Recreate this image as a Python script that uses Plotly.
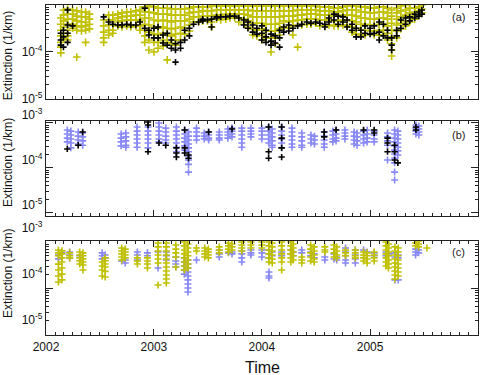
import plotly.graph_objects as go

# ---------------- Panel (a): yellow & black, dense time series ----------------
a_dates = ["2002-02-20", "2002-03-01", "2002-03-15", "2002-04-01", "2002-04-15", "2002-05-01",
           "2002-05-15", "2002-05-28", "2002-07-15", "2002-08-01", "2002-08-15", "2002-09-01",
           "2002-09-15", "2002-10-01", "2002-10-15", "2002-11-01", "2002-11-15", "2002-12-01",
           "2002-12-15", "2003-01-01", "2003-01-15", "2003-02-01", "2003-02-15", "2003-03-01",
           "2003-03-15", "2003-04-01", "2003-04-15", "2003-05-01", "2003-05-15", "2003-06-01",
           "2003-06-15", "2003-07-01", "2003-07-15", "2003-08-01", "2003-08-15", "2003-09-01",
           "2003-09-15", "2003-10-01", "2003-10-15", "2003-11-01", "2003-11-15", "2003-12-01",
           "2003-12-15", "2004-01-01", "2004-01-15", "2004-02-01", "2004-02-15", "2004-03-01",
           "2004-03-15", "2004-04-01", "2004-04-15", "2004-05-01", "2004-05-15", "2004-06-01",
           "2004-06-15", "2004-07-01", "2004-07-15", "2004-08-01", "2004-08-15", "2004-09-01",
           "2004-09-15", "2004-10-01", "2004-10-15", "2004-11-01", "2004-11-15", "2004-12-01",
           "2004-12-15", "2005-01-01", "2005-01-15", "2005-02-01", "2005-02-15", "2005-03-01",
           "2005-03-15", "2005-04-01", "2005-04-15", "2005-05-01", "2005-05-15", "2005-06-01",
           "2005-06-15", "2005-06-25"]
a_yellow = [
    [5.3e-4, 3.9e-4, 2.9e-4, 2.2e-4, 1.6e-4, 1.27e-4, 9.6e-5],
    [7.8e-4, 6.1e-4, 4.6e-4, 3.4e-4, 2.5e-4, 1.9e-4],
    [8.2e-4, 6.4e-4, 5.0e-4, 3.9e-4, 2.9e-4, 2.2e-4, 1.8e-4],
    [7.8e-4, 6.4e-4, 5.0e-4, 3.9e-4, 3.2e-4],
    [7.5e-4, 5.8e-4, 4.6e-4, 3.6e-4, 2.9e-4, 7.8e-5],
    [7.1e-4, 5.6e-4, 4.35e-4, 3.4e-4, 2.8e-4],
    [7.1e-4, 5.6e-4, 4.35e-4, 3.6e-4, 2.9e-4, 1.6e-4],
    [6.4e-4, 5.0e-4, 3.9e-4, 3.1e-4],
    [4.8e-4, 3.6e-4, 2.65e-4, 2.0e-4, 1.6e-4],
    [6.1e-4, 4.8e-4, 3.75e-4, 2.9e-4, 2.3e-4],
    [6.1e-4, 4.8e-4, 3.75e-4, 2.9e-4, 2.5e-4],
    [6.4e-4, 5.3e-4, 4.35e-4, 3.6e-4],
    [6.8e-4, 5.6e-4, 4.6e-4, 3.4e-4],
    [7.1e-4, 5.8e-4, 4.8e-4, 3.6e-4],
    [7.1e-4, 5.8e-4, 4.8e-4, 3.4e-4],
    [7.5e-4, 6.1e-4, 4.8e-4, 3.6e-4],
    [7.8e-4, 6.1e-4, 4.8e-4, 3.6e-4, 2.9e-4],
    [9.1e-4, 7.1e-4, 5.3e-4, 3.9e-4, 2.9e-4, 2.2e-4, 1.6e-4],
    [9.5e-4, 7.1e-4, 5.3e-4, 3.75e-4, 2.65e-4, 1.8e-4, 1.1e-4],
    [9.1e-4, 6.8e-4, 4.8e-4, 3.4e-4, 2.4e-4, 1.6e-4, 1.0e-4],
    [8.6e-4, 6.4e-4, 4.6e-4, 3.2e-4, 2.3e-4, 1.6e-4, 1.2e-4],
    [8.6e-4, 6.4e-4, 4.8e-4, 3.4e-4, 2.5e-4, 1.8e-4, 1.33e-4],
    [8.6e-4, 6.4e-4, 4.6e-4, 3.2e-4, 2.3e-4, 1.6e-4, 6.8e-5],
    [8.2e-4, 6.1e-4, 4.35e-4, 3.1e-4, 2.2e-4, 1.55e-4],
    [8.2e-4, 6.1e-4, 4.6e-4, 3.2e-4, 2.4e-4, 1.8e-4, 1.4e-4],
    [8.2e-4, 6.1e-4, 4.6e-4, 3.4e-4, 2.5e-4, 1.8e-4],
    [8.2e-4, 6.1e-4, 4.6e-4, 3.2e-4, 2.4e-4],
    [8.6e-4, 6.8e-4, 5.0e-4, 3.75e-4, 2.8e-4],
    [9.1e-4, 7.1e-4, 5.6e-4, 4.35e-4],
    [9.1e-4, 7.1e-4, 5.6e-4, 4.35e-4],
    [9.1e-4, 7.5e-4, 5.8e-4, 4.6e-4],
    [9.1e-4, 7.5e-4, 5.8e-4, 4.6e-4],
    [9.5e-4, 7.5e-4, 5.8e-4, 4.35e-4, 3.4e-4],
    [9.5e-4, 7.8e-4, 6.1e-4, 5.0e-4],
    [9.5e-4, 7.8e-4, 6.1e-4, 4.8e-4],
    [9.5e-4, 7.8e-4, 6.4e-4, 5.0e-4],
    [9.5e-4, 7.8e-4, 6.4e-4, 5.3e-4],
    [9.5e-4, 7.8e-4, 6.4e-4, 5.3e-4],
    [9.5e-4, 7.8e-4, 6.4e-4, 5.3e-4, 4.35e-4],
    [9.5e-4, 7.8e-4, 6.4e-4, 5.0e-4, 3.9e-4],
    [9.5e-4, 7.8e-4, 6.1e-4, 4.6e-4, 3.4e-4],
    [9.5e-4, 7.5e-4, 5.6e-4, 4.1e-4, 3.1e-4, 2.3e-4],
    [9.5e-4, 7.5e-4, 5.6e-4, 4.1e-4, 2.9e-4, 2.2e-4],
    [9.5e-4, 7.5e-4, 5.6e-4, 4.1e-4, 3.1e-4, 2.3e-4, 1.8e-4],
    [9.5e-4, 7.5e-4, 5.6e-4, 3.9e-4, 2.8e-4, 2.0e-4],
    [9.5e-4, 7.5e-4, 5.6e-4, 3.9e-4, 2.8e-4, 2.0e-4, 1.0e-4],
    [9.5e-4, 7.5e-4, 5.6e-4, 3.9e-4, 2.8e-4, 2.0e-4, 1.5e-4],
    [9.5e-4, 7.5e-4, 5.6e-4, 4.1e-4, 3.1e-4, 2.3e-4],
    [9.5e-4, 7.5e-4, 5.8e-4, 4.6e-4, 3.4e-4],
    [9.5e-4, 7.5e-4, 5.8e-4, 4.35e-4, 3.2e-4],
    [9.5e-4, 7.5e-4, 5.8e-4, 4.6e-4, 3.6e-4, 2.3e-4],
    [9.5e-4, 7.8e-4, 6.1e-4, 4.8e-4, 3.75e-4, 1.27e-4],
    [9.5e-4, 7.8e-4, 6.1e-4, 4.8e-4, 3.75e-4],
    [9.5e-4, 7.8e-4, 6.4e-4, 5.0e-4, 3.9e-4],
    [9.5e-4, 7.8e-4, 6.4e-4, 5.0e-4, 3.9e-4],
    [9.5e-4, 7.8e-4, 6.4e-4, 5.0e-4, 4.1e-4],
    [9.1e-4, 7.5e-4, 6.1e-4, 4.8e-4, 3.6e-4],
    [9.1e-4, 7.5e-4, 6.1e-4, 4.8e-4, 3.6e-4],
    [9.1e-4, 7.5e-4, 6.1e-4, 4.8e-4, 3.75e-4],
    [8.6e-4, 7.1e-4, 5.8e-4, 4.6e-4, 3.6e-4],
    [8.6e-4, 7.1e-4, 5.8e-4, 4.6e-4, 3.6e-4],
    [9.1e-4, 7.5e-4, 6.1e-4, 4.8e-4, 3.75e-4],
    [9.5e-4, 7.8e-4, 6.1e-4, 4.8e-4, 3.6e-4],
    [9.5e-4, 7.8e-4, 6.1e-4, 4.6e-4, 3.4e-4, 2.65e-4],
    [9.5e-4, 7.8e-4, 5.8e-4, 4.35e-4, 3.2e-4, 2.4e-4],
    [9.1e-4, 7.1e-4, 5.3e-4, 3.9e-4, 2.9e-4, 2.3e-4],
    [9.1e-4, 7.1e-4, 5.3e-4, 3.9e-4, 2.9e-4, 2.3e-4],
    [8.6e-4, 6.8e-4, 5.0e-4, 3.75e-4, 2.8e-4],
    [8.6e-4, 6.8e-4, 5.0e-4, 3.75e-4, 2.8e-4, 2.3e-4],
    [9.1e-4, 7.1e-4, 5.3e-4, 3.9e-4, 2.9e-4, 2.3e-4],
    [9.1e-4, 7.1e-4, 5.3e-4, 3.9e-4, 2.9e-4, 2.3e-4],
    [8.6e-4, 6.8e-4, 5.0e-4, 3.6e-4, 2.5e-4, 1.8e-4],
    [7.8e-4, 5.8e-4, 4.1e-4, 2.9e-4, 2.1e-4, 1.5e-4, 1.1e-4, 8.2e-5],
    [8.6e-4, 6.8e-4, 5.0e-4, 3.75e-4, 2.8e-4, 2.0e-4],
    [9.5e-4, 7.5e-4, 5.6e-4, 4.1e-4, 3.1e-4],
    [1.0e-3, 7.8e-4, 6.1e-4, 4.6e-4, 3.6e-4],
    [1.05e-3, 8.6e-4, 6.8e-4, 5.3e-4, 4.35e-4],
    [1.05e-3, 8.6e-4, 7.1e-4, 5.8e-4, 5.0e-4],
    [1.05e-3, 9.1e-4, 7.5e-4, 6.1e-4],
    [1.0e-3, 8.2e-4, 6.8e-4],
]
a_black = [
    [2.5e-4, 1.8e-4, 1.4e-4], [2.9e-4, 2.1e-4, 1.27e-4], [7.8e-4, 3.75e-4, 2.5e-4, 1.6e-4], [3.6e-4],
    [], [], [], [],
    [5.6e-4], [4.35e-4], [3.9e-4], [3.75e-4], [3.75e-4], [3.9e-4], [3.75e-4], [3.75e-4], [4.35e-4],
    [8.6e-4, 3.2e-4], [2.3e-4, 2.9e-4], [2.0e-4, 3.2e-4], [3.4e-4, 2.0e-4], [1.55e-4, 2.3e-4],
    [2.5e-4, 1.4e-4], [1.8e-4, 1.2e-4], [1.5e-4, 1.1e-4, 6.1e-5], [1.6e-4, 1.2e-4], [2.9e-4, 1.8e-4],
    [3.2e-4, 2.2e-4], [3.9e-4], [4.35e-4], [4.6e-4, 5.0e-4], [4.8e-4], [5.0e-4, 3.4e-4],
    [5.3e-4, 5.6e-4], [5.6e-4], [5.6e-4], [5.8e-4], [5.8e-4], [5.3e-4], [4.8e-4, 3.75e-4],
    [4.35e-4, 3.2e-4], [3.75e-4, 2.65e-4], [3.2e-4, 2.4e-4], [3.6e-4, 2.5e-4, 1.8e-4],
    [2.9e-4, 2.1e-4, 1.6e-4], [2.4e-4, 1.7e-4, 1.4e-4], [2.2e-4, 1.55e-4], [2.9e-4, 2.0e-4, 1.27e-4],
    [3.4e-4, 2.65e-4], [3.75e-4, 2.8e-4], [3.2e-4], [3.6e-4], [3.9e-4], [4.35e-4], [4.1e-4],
    [4.35e-4], [4.1e-4], [3.9e-4, 3.4e-4], [5.3e-4, 4.35e-4], [6.4e-4, 4.8e-4], [5.8e-4, 3.9e-4],
    [5.6e-4, 4.35e-4], [4.8e-4, 3.4e-4], [3.9e-4, 2.9e-4], [3.2e-4, 2.1e-4], [2.9e-4, 2.1e-4],
    [3.6e-4, 2.5e-4], [3.2e-4, 2.4e-4], [3.6e-4, 2.5e-4], [4.35e-4, 2.65e-4, 1.8e-4], [3.9e-4, 2.2e-4],
    [2.9e-4, 2.0e-4], [2.0e-4, 1.4e-4, 1.1e-4], [2.9e-4, 2.2e-4], [4.8e-4, 3.2e-4], [5.3e-4, 3.9e-4],
    [5.6e-4, 4.6e-4], [6.4e-4, 5.3e-4], [7.1e-4, 5.8e-4], [7.8e-4, 6.4e-4],
]

# ---------------- Panel (b): blue & black clusters ----------------
b_dates = ["2002-03-14", "2002-03-26", "2002-04-20", "2002-05-05", "2002-09-12", "2002-09-28",
           "2002-11-05", "2002-12-12", "2003-01-18", "2003-02-10", "2003-03-18", "2003-04-15",
           "2003-04-28", "2003-05-25", "2003-06-20", "2003-07-05", "2003-08-10", "2003-09-08",
           "2003-09-22", "2003-10-25", "2003-11-25", "2004-01-01", "2004-01-24", "2004-02-05",
           "2004-03-08", "2004-04-12", "2004-05-15", "2004-06-15", "2004-06-27", "2004-07-30",
           "2004-08-28", "2004-09-08", "2004-10-08", "2004-11-08", "2004-11-18", "2004-12-10",
           "2004-12-22", "2005-01-15", "2005-03-01", "2005-03-25", "2005-04-05", "2005-06-05",
           "2005-06-15"]
b_blue = [
    [7.0e-4, 5.7e-4, 4.6e-4, 3.8e-4],
    [6.6e-4, 5.4e-4, 4.4e-4, 3.6e-4, 2.8e-4],
    [6.3e-4, 5.1e-4, 4.2e-4, 3.4e-4],
    [6.0e-4, 4.9e-4, 4.0e-4, 3.2e-4],
    [5.7e-4, 4.6e-4, 3.8e-4, 3.1e-4],
    [6.0e-4, 4.9e-4, 4.0e-4, 3.2e-4, 2.9e-4],
    [8.15e-4, 6.6e-4, 5.4e-4, 4.4e-4, 3.6e-4, 2.9e-4],
    [8.15e-4, 6.6e-4, 5.4e-4, 4.4e-4, 3.6e-4, 2.8e-4],
    [1.0e-3, 8.15e-4, 6.6e-4, 5.4e-4, 4.4e-4, 3.8e-4],
    [7.7e-4, 6.3e-4, 5.1e-4, 4.2e-4, 3.6e-4],
    [8.15e-4, 6.6e-4, 5.4e-4, 4.4e-4, 3.6e-4, 2.9e-4, 2.3e-4],
    [7.0e-4, 5.7e-4, 4.6e-4, 3.8e-4, 3.1e-4, 2.5e-4],
    [6.3e-4, 5.1e-4, 4.2e-4, 3.4e-4, 2.8e-4, 2.3e-4, 1.85e-4, 1.5e-4, 1.2e-4, 8.1e-5],
    [7.7e-4, 6.3e-4, 5.1e-4, 4.2e-4],
    [6.0e-4, 5.1e-4, 4.4e-4],
    [6.3e-4, 5.4e-4, 4.6e-4, 4.2e-4],
    [6.3e-4, 5.4e-4, 4.6e-4, 4.2e-4],
    [7.35e-4, 6.3e-4, 5.4e-4, 4.6e-4],
    [7.7e-4, 6.6e-4, 5.7e-4, 4.9e-4],
    [7.7e-4, 6.6e-4, 5.4e-4, 4.4e-4, 3.6e-4, 2.9e-4],
    [7.7e-4, 6.6e-4, 5.7e-4, 4.9e-4],
    [7.7e-4, 6.6e-4, 5.4e-4, 4.4e-4],
    [8.15e-4, 6.6e-4, 5.4e-4, 4.4e-4, 3.6e-4],
    [7.35e-4, 6.0e-4, 4.9e-4, 4.0e-4, 3.2e-4, 2.9e-4],
    [8.15e-4, 6.6e-4, 5.4e-4, 4.4e-4, 3.6e-4, 2.8e-4],
    [7.7e-4, 6.3e-4, 5.1e-4, 4.2e-4, 3.4e-4, 2.9e-4],
    [6.0e-4, 4.9e-4, 4.0e-4, 3.2e-4, 2.9e-4],
    [5.4e-4, 4.4e-4, 3.6e-4],
    [5.1e-4, 4.2e-4, 3.4e-4],
    [6.3e-4, 5.1e-4, 4.2e-4, 3.4e-4, 2.9e-4],
    [6.6e-4, 5.4e-4, 4.4e-4, 3.8e-4],
    [7.0e-4, 5.7e-4, 4.6e-4, 4.0e-4],
    [7.0e-4, 6.0e-4, 5.1e-4, 4.4e-4],
    [6.3e-4, 5.1e-4, 4.2e-4, 3.4e-4],
    [6.0e-4, 4.9e-4, 4.0e-4, 3.2e-4],
    [6.6e-4, 5.4e-4, 4.4e-4, 3.6e-4],
    [7.0e-4, 5.7e-4, 4.6e-4, 3.8e-4],
    [6.6e-4, 5.4e-4, 4.4e-4, 3.8e-4],
    [6.0e-4, 4.9e-4, 4.0e-4, 3.2e-4, 1.5e-4],
    [7.0e-4, 5.7e-4, 4.6e-4, 3.8e-4, 3.1e-4, 2.5e-4, 2.05e-4, 1.65e-4, 1.3e-4, 8.1e-5, 5.4e-5],
    [6.6e-4, 5.4e-4, 4.4e-4, 3.6e-4, 2.9e-4, 2.4e-4, 1.95e-4],
    [9.0e-4, 7.7e-4, 6.6e-4, 5.7e-4],
    [8.6e-4, 7.35e-4, 6.3e-4, 5.4e-4],
]
b_black = [
    [2.65e-4], [], [3.2e-4], [6.3e-4], [], [], [], [1.05e-3, 9.0e-4, 2.3e-4], [3.6e-4], [3.2e-4],
    [2.8e-4, 2.15e-4, 1.75e-4], [7.0e-4, 2.8e-4, 2.15e-4], [1.95e-4, 1.65e-4], [], [], [6.3e-4], [],
    [], [7.35e-4], [], [], [], [8.15e-4, 2.3e-4, 1.65e-4], [], [8.15e-4, 4.6e-4, 2.8e-4, 1.75e-4], [],
    [], [], [], [6.3e-4, 4.9e-4], [], [7.0e-4], [], [], [], [7.0e-4], [], [7.0e-4, 6.0e-4],
    [4.6e-4, 3.6e-4, 2.3e-4], [3.2e-4, 2.3e-4, 1.5e-4], [1.3e-4], [8.15e-4, 7.0e-4], [],
]

# ---------------- Panel (c): yellow & blue clusters ----------------
c_dates = ["2002-02-12", "2002-02-24", "2002-03-22", "2002-04-25", "2002-05-06", "2002-07-10",
           "2002-07-20", "2002-09-14", "2002-09-26", "2002-11-06", "2002-12-10", "2003-01-15",
           "2003-02-12", "2003-03-16", "2003-04-14", "2003-04-26", "2003-05-25", "2003-06-22",
           "2003-07-04", "2003-08-10", "2003-09-10", "2003-09-22", "2003-10-25", "2003-11-25",
           "2004-01-01", "2004-01-25", "2004-02-05", "2004-03-08", "2004-04-08", "2004-04-16",
           "2004-05-15", "2004-06-14", "2004-06-26", "2004-08-01", "2004-09-01", "2004-09-10",
           "2004-10-10", "2004-11-12", "2004-12-10", "2004-12-22", "2005-01-15", "2005-02-24",
           "2005-03-04", "2005-03-26", "2005-04-06", "2005-06-04", "2005-06-14", "2005-07-12"]
c_yellow = [
    [6.7e-4, 5.8e-4, 5.0e-4, 3.3e-4, 2.46e-4, 1.82e-4, 1.35e-4],
    [6.4e-4, 5.5e-4, 4.5e-4, 3.67e-4, 2.72e-4, 2.0e-4, 1.5e-4],
    [5.8e-4, 5.0e-4, 4.5e-4],
    [6.06e-4, 5.2e-4, 4.5e-4, 3.9e-4, 3.32e-4],
    [5.8e-4, 5.0e-4, 4.3e-4, 3.67e-4, 3.15e-4, 2.46e-4],
    [3.67e-4, 3.0e-4, 2.46e-4, 1.82e-4],
    [4.5e-4, 3.9e-4, 3.32e-4, 2.85e-4, 2.3e-4, 1.73e-4],
    [7.4e-4, 6.37e-4, 5.5e-4, 4.7e-4, 4.06e-4],
    [7.0e-4, 6.06e-4, 5.2e-4, 4.5e-4],
    [4.5e-4, 3.85e-4, 3.32e-4],
    [4.5e-4, 3.85e-4, 3.32e-4, 2.72e-4],
    [9.5e-4, 7.8e-4, 6.37e-4, 5.2e-4, 4.27e-4, 3.5e-4, 1.16e-4],
    [9.5e-4, 7.8e-4, 6.37e-4, 5.2e-4, 4.27e-4, 3.5e-4, 2.86e-4, 2.34e-4, 1.92e-4, 1.57e-4, 1.28e-4],
    [8.6e-4, 7.0e-4, 5.8e-4, 4.7e-4, 2.86e-4],
    [1.0e-3, 8.2e-4, 6.7e-4, 5.5e-4, 4.5e-4, 3.67e-4, 3.0e-4, 2.46e-4],
    [9.05e-4, 7.4e-4, 6.06e-4, 5.0e-4, 4.06e-4, 3.32e-4, 2.72e-4],
    [7.4e-4, 6.37e-4],
    [7.4e-4, 6.37e-4, 5.5e-4, 4.7e-4],
    [7.0e-4, 6.06e-4, 5.2e-4, 4.5e-4],
    [7.8e-4, 6.7e-4, 5.8e-4],
    [9.5e-4, 8.2e-4, 7.0e-4, 6.06e-4],
    [9.05e-4, 7.8e-4, 6.7e-4],
    [1.0e-3, 8.6e-4, 7.4e-4, 6.37e-4],
    [1.0e-3, 8.6e-4, 7.4e-4],
    [1.0e-3, 8.6e-4, 7.4e-4],
    [1.0e-3, 8.2e-4, 6.7e-4, 5.5e-4, 4.5e-4, 3.67e-4],
    [9.5e-4, 7.8e-4, 6.37e-4, 5.2e-4, 4.27e-4, 3.5e-4],
    [1.0e-3, 8.2e-4, 6.7e-4, 5.5e-4, 4.5e-4, 3.67e-4, 2.46e-4],
    [1.0e-3, 8.2e-4, 6.7e-4, 5.5e-4, 4.5e-4, 3.67e-4],
    [9.05e-4, 7.4e-4, 6.06e-4, 5.0e-4, 4.06e-4],
    [4.7e-4, 4.06e-4, 3.5e-4],
    [8.6e-4, 7.0e-4, 5.8e-4, 4.7e-4, 3.85e-4],
    [7.8e-4, 6.37e-4, 5.2e-4, 4.27e-4, 3.67e-4],
    [7.8e-4, 6.7e-4, 6.06e-4],
    [8.6e-4, 7.0e-4, 5.8e-4, 4.7e-4],
    [7.8e-4, 6.37e-4, 5.2e-4, 4.5e-4],
    [6.7e-4, 5.8e-4, 5.0e-4],
    [6.7e-4, 5.8e-4, 5.0e-4, 4.5e-4],
    [6.06e-4, 5.2e-4, 4.5e-4, 3.85e-4],
    [5.8e-4, 5.0e-4, 4.27e-4, 3.5e-4],
    [6.06e-4, 5.2e-4, 4.5e-4, 3.85e-4],
    [1.0e-3, 8.2e-4, 6.7e-4, 5.5e-4, 4.5e-4, 3.67e-4, 3.0e-4],
    [9.05e-4, 7.4e-4, 6.06e-4, 5.0e-4, 4.06e-4, 3.32e-4, 2.72e-4],
    [7.8e-4, 6.37e-4, 5.2e-4, 4.27e-4, 3.5e-4, 2.86e-4, 2.34e-4, 1.92e-4, 1.57e-4],
    [7.4e-4, 6.06e-4, 5.0e-4, 4.06e-4, 3.32e-4, 2.72e-4, 2.22e-4, 1.82e-4],
    [1.1e-3, 9.5e-4, 8.2e-4],
    [1.05e-3, 9.05e-4, 7.8e-4],
    [7.4e-4],
]
c_blue = [
    [5.2e-4, 4.3e-4], [5.8e-4], [6.06e-4, 5.2e-4, 4.5e-4], [5.0e-4], [], [5.8e-4, 5.0e-4, 4.3e-4],
    [5.2e-4, 4.5e-4], [3.85e-4], [4.06e-4, 3.5e-4], [6.06e-4, 5.2e-4, 4.06e-4], [5.8e-4, 5.0e-4],
    [6.06e-4, 2.72e-4], [6.06e-4, 5.0e-4, 4.06e-4], [4.7e-4, 3.85e-4, 3.32e-4, 2.86e-4],
    [4.5e-4, 3.67e-4, 3.0e-4, 2.46e-4, 2.0e-4],
    [4.06e-4, 3.32e-4, 2.72e-4, 2.22e-4, 1.82e-4, 1.5e-4, 1.22e-4, 1.0e-4, 8.2e-5],
    [4.06e-4], [], [], [6.7e-4, 5.5e-4, 4.7e-4], [5.8e-4], [6.06e-4, 5.5e-4],
    [6.37e-4, 5.5e-4, 4.5e-4, 3.67e-4], [6.7e-4, 5.8e-4, 5.2e-4], [6.7e-4, 5.8e-4, 4.7e-4],
    [6.7e-4, 5.5e-4, 4.5e-4, 2.22e-4, 1.82e-4, 1.65e-4], [6.06e-4, 5.0e-4], [6.06e-4, 5.0e-4],
    [6.7e-4, 5.5e-4], [6.06e-4, 5.0e-4], [6.7e-4, 5.8e-4], [6.06e-4, 5.0e-4], [5.5e-4, 4.5e-4],
    [4.7e-4, 4.06e-4], [5.5e-4, 4.27e-4], [4.7e-4, 4.06e-4], [7.4e-4, 6.06e-4, 5.0e-4, 4.06e-4, 3.5e-4],
    [6.7e-4, 5.2e-4, 4.27e-4, 3.5e-4], [6.7e-4], [6.06e-4], [5.8e-4, 5.0e-4], [6.06e-4, 5.0e-4],
    [5.5e-4], [5.8e-4, 4.7e-4, 1.5e-4], [5.2e-4, 4.5e-4, 1.5e-4], [7.0e-4, 6.06e-4, 5.2e-4],
    [6.7e-4, 5.8e-4], [],
]

years = ["2002", "2003", "2004", "2005", "2006"]
ytick_vals = [1e-5, 1e-4, 1e-3]
ytick_text = ["10<sup>-5</sup>", "10<sup>-4</sup>", "10<sup>-3</sup>"]

YELLOW = "#c0c000"
BLACK = "#000000"
BLUE = "#8888f6"


def flatten(dates, groups):
    xs, ys = [], []
    for d, g in zip(dates, groups):
        for v in g:
            xs.append(d)
            ys.append(v)
    return xs, ys


def pts(dates, groups, color, xa, ya, size=5):
    xs, ys = flatten(dates, groups)
    return go.Scatter(x=xs, y=ys, mode="markers", xaxis=xa, yaxis=ya, showlegend=False,
                      hoverinfo="skip",
                      marker=dict(symbol="cross-thin", size=size, color=color,
                                  line=dict(color=color, width=1.6)))


fig = go.Figure()
fig.add_trace(pts(a_dates, a_yellow, YELLOW, "x", "y", 5.5))
fig.add_trace(pts(a_dates, a_black, BLACK, "x", "y", 4.5))
fig.add_trace(pts(b_dates, b_blue, BLUE, "x2", "y2", 5))
fig.add_trace(pts(b_dates, b_black, BLACK, "x2", "y2", 4.5))
fig.add_trace(pts(c_dates, c_blue, BLUE, "x3", "y3", 5))
fig.add_trace(pts(c_dates, c_yellow, YELLOW, "x3", "y3", 5))

minor_y = [m * 10.0 ** e for e in (-5, -4) for m in range(2, 10)]
AX = "#222222"
FONT = "Liberation Sans, Arial, sans-serif"


def xax(anchor, labels):
    return dict(type="date", range=["2002-01-01", "2006-01-01"], anchor=anchor,
                tickvals=[y + "-01-01" for y in years], ticktext=years,
                showticklabels=labels, ticks="inside", ticklen=6, tickwidth=1, tickcolor=AX,
                showline=True, linecolor=AX, linewidth=1.3, mirror="allticks",
                showgrid=False, zeroline=False, automargin=False,
                tickfont=dict(size=12, color="#111", family=FONT),
                minor=dict(ticks="inside", ticklen=3, tickwidth=1, tickcolor=AX,
                           dtick="M1", tick0="2002-01-01", showgrid=False))


def yax(anchor, dom, rng, shift):
    return dict(type="log", range=rng, domain=dom, anchor=anchor,
                tickvals=ytick_vals, ticktext=ytick_text, ticklabelshift=shift,
                ticks="inside", ticklen=7, tickwidth=1, tickcolor=AX,
                showline=True, linecolor=AX, linewidth=1.3, mirror="allticks",
                showgrid=False, zeroline=False, automargin=False,
                tickfont=dict(size=12, color="#111", family=FONT),
                minor=dict(ticks="inside", ticklen=3, tickwidth=1, tickcolor=AX,
                           tickvals=minor_y, showgrid=False))


fig.update_layout(
    width=489, height=375,
    margin=dict(l=46, r=11, t=5, b=40),
    paper_bgcolor="white", plot_bgcolor="white",
    font=dict(family=FONT, color="#111"),
    xaxis=xax("y", False),
    xaxis2=xax("y2", False),
    xaxis3=xax("y3", True),
    yaxis=yax("x", [0.7152, 1.0], [-5, -3], 0),
    yaxis2=yax("x2", [0.3606, 0.6485], [-5.067, -2.956], -8),
    yaxis3=yax("x3", [0.0, 0.2848], [-5.02, -2.98], -14),
)

annots = []
for ypos in (0.848, 0.524, 0.188):
    annots.append(dict(text="Extinction (1/km)", xref="paper", yref="paper", x=-0.088, y=ypos,
                       textangle=-90, showarrow=False, font=dict(size=12, family=FONT, color="#111"),
                       xanchor="center", yanchor="middle"))
for lab, ypos in (("(a)", 0.964), ("(b)", 0.606), ("(c)", 0.2515)):
    annots.append(dict(text=lab, xref="paper", yref="paper", x=0.954, y=ypos, showarrow=False,
                       font=dict(size=11, family=FONT, color="#222"),
                       xanchor="center", yanchor="middle"))
annots.append(dict(text="Time", xref="paper", yref="paper", x=0.5, y=-0.097, showarrow=False,
                   font=dict(size=16, family=FONT, color="#111"), xanchor="center", yanchor="middle"))
fig.update_layout(annotations=annots)

fig.write_html("out.html")
